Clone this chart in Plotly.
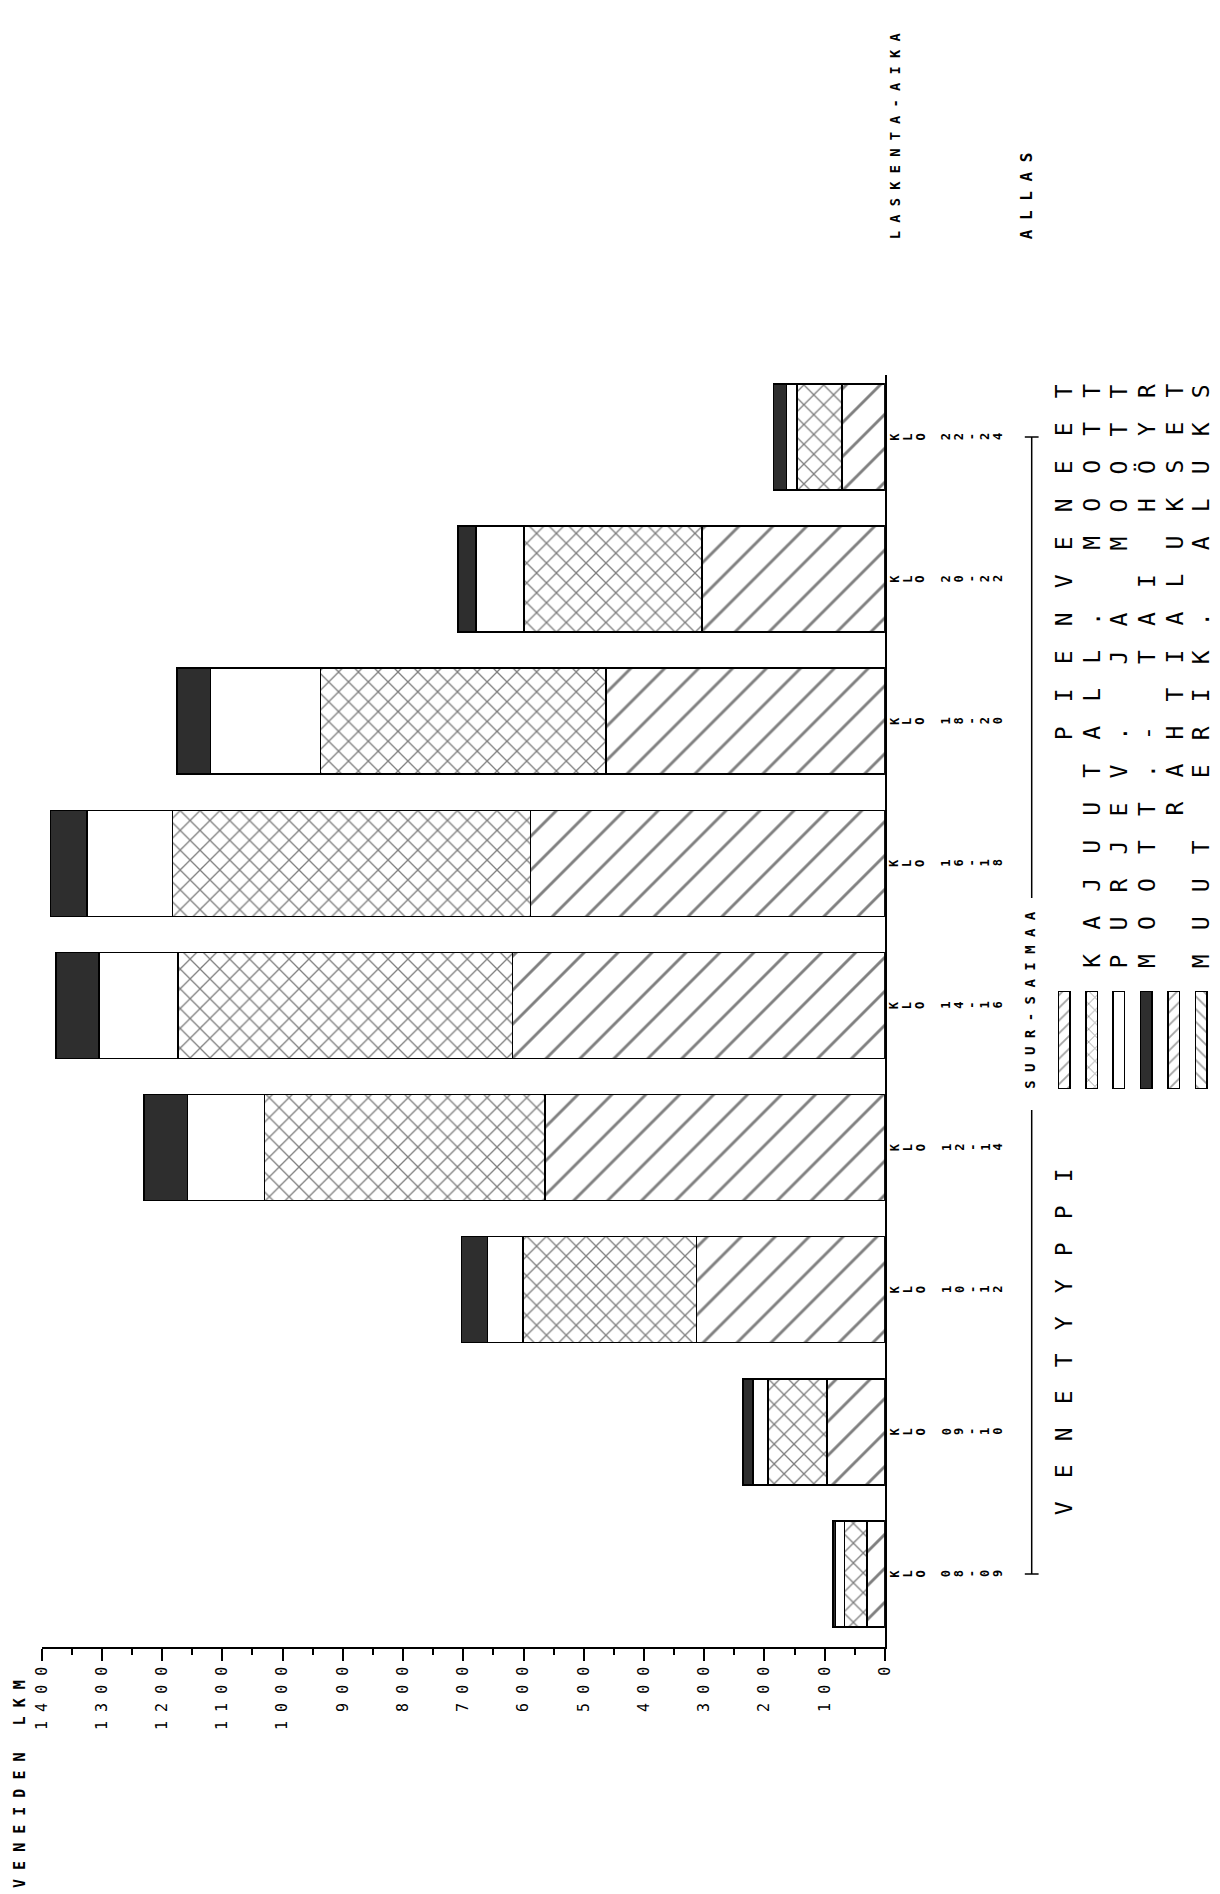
import plotly.graph_objects as go

# Veneiden lukumaara laskenta-ajoittain, Suur-Saimaa
laskenta_aika = ['KLO 08-09', 'KLO 09-10', 'KLO 10-12', 'KLO 12-14', 'KLO 14-16',
                 'KLO 16-18', 'KLO 18-20', 'KLO 20-22', 'KLO 22-24']
pienveneet = [30, 96, 313, 564, 618, 588, 463, 304, 71]
kajuutall_moott = [37, 98, 288, 466, 556, 595, 474, 295, 75]
purjev_ja_moott = [15, 25, 59, 128, 131, 142, 183, 80, 17]
moott_tai_hoyr = [4, 17, 43, 72, 71, 60, 55, 30, 22]
rahtialukset = [0, 0, 0, 0, 0, 0, 0, 0, 0]
muut_erik_aluks = [0, 0, 0, 0, 0, 0, 0, 0, 0]

venetyypit = ['PIENVENEET', 'KAJUUTALL. MOOTT', 'PURJEV. JA MOOTT',
              'MOOTT.- TAI HÖYR', 'RAHTIALUKSET', 'MUUT ERIK. ALUKS']
tick_values = [0, 100, 200, 300, 400, 500, 600, 700, 800, 900, 1000, 1100, 1200, 1300, 1400]
legend_key = [1, 1, 1, 1, 1, 1]

# page has an 8px body margin, so the figure is drawn a bit smaller and all
# positions below are given in page pixels
OFF = 8
W, H = 1220 - OFF, 1894 - OFF
MONO = 'DejaVu Sans Mono'
NB = '\u00a0'


def spaced(s, n=1):
    # plotter-style wide letter spacing
    return (NB * n).join(s.replace(' ', NB))


def pxx(p):
    return (p - OFF) / W


def pxy(p):
    return 1 - (p - OFF) / H


def turned_chars(fig, text, x, y0, step, size, weight='normal', yref='paper'):
    # one annotation per character, each turned 90 deg like the rotated plotter text
    for k, ch in enumerate(text):
        if ch == ' ':
            continue
        if yref == 'paper':
            xx, yy = pxx(x), pxy(y0 - k * step)
        else:
            xx, yy = pxx(x + k * step), y0
        fig.add_annotation(x=xx, y=yy, xref='paper', yref=yref, text=ch, textangle=-90,
                           showarrow=False, xanchor='center', yanchor='middle',
                           font=dict(family=MONO, size=size, weight=weight))


series = [pienveneet, kajuutall_moott, purjev_ja_moott, moott_tai_hoyr, rahtialukset, muut_erik_aluks]
fills = ['white', 'white', 'white', '#2e2e2e', 'white', 'white']
shapes_p = ['/', 'x', '', '', '/', '\\']
sizes_p = [24, 14, 10, 10, 14, 8]
solid_p = [0.12, 0.18, 0.1, 0.1, 0.15, 0.25]

fig = go.Figure()
for name, vals, col, shp, sz, so in zip(venetyypit, series, fills, shapes_p, sizes_p, solid_p):
    fig.add_trace(go.Bar(
        y=laskenta_aika, x=vals, name=name, orientation='h',
        marker=dict(color=col, line=dict(color='black', width=1.5),
                    pattern=dict(shape=shp, size=sz, solidity=so, fgcolor='#000000', bgcolor=col)),
        showlegend=False))

# legend key boxes
fig.add_trace(go.Bar(
    x=[0, 1, 2, 3, 4, 5], y=legend_key, width=0.42, xaxis='x2', yaxis='y2',
    marker=dict(color=fills, line=dict(color='black', width=1.5),
                pattern=dict(shape=shapes_p, size=9, solidity=0.2, fgcolor='#000000')),
    showlegend=False))

fig.update_layout(
    width=W, height=H, barmode='stack', bargap=0.254,
    margin=dict(l=0, r=0, t=0, b=0),
    paper_bgcolor='white', plot_bgcolor='white',
    font=dict(family=MONO, color='black'),
    xaxis=dict(domain=[pxx(33), pxx(889)], range=[1400, 0],
               tickmode='array', tickvals=tick_values,
               ticktext=[spaced(str(v)) for v in tick_values],
               tickangle=-90, tickfont=dict(family=MONO, size=15),
               ticks='outside', ticklen=12, tickwidth=1.5, tickcolor='black',
               minor=dict(dtick=50, ticks='outside', ticklen=6, tickwidth=1.5, tickcolor='black'),
               showline=True, linewidth=1.5, linecolor='black',
               showgrid=False, zeroline=False),
    yaxis=dict(domain=[pxy(1647), pxy(375)], type='category',
               categoryorder='array', categoryarray=laskenta_aika,
               range=[-0.514, 8.436], side='right', anchor='x',
               showline=True, linewidth=1.5, linecolor='black',
               showticklabels=False, ticks='', showgrid=False, zeroline=False),
    xaxis2=dict(domain=[pxx(1057), pxx(1220)], range=[-0.5, 5.36], visible=False),
    yaxis2=dict(domain=[pxy(1089), pxy(991)], range=[0, 1], visible=False, anchor='x2'),
)

# category labels: every character turned on its own, as in the rotated original
for cat in laskenta_aika:
    turned_chars(fig, cat, 899, cat, 13.1, 12, weight='bold', yref='y')

# legend labels, read from bottom to top, tops aligned
legend_x = [1071, 1099, 1127, 1155, 1183, 1210]
pitch = 38
for lx, name in zip(legend_x, venetyypit):
    turned_chars(fig, name, lx, 391 + (len(name) - 1) * pitch, pitch, 23)

turned_chars(fig, 'VENETYYPPI', 1071, 1508, 37, 23)

fig.add_annotation(x=pxx(900), y=pxy(241), xref='paper', yref='paper', text=spaced('LASKENTA-AIKA'),
                   textangle=-90, showarrow=False, xanchor='center', yanchor='bottom',
                   font=dict(family=MONO, size=13.7, weight='bold'))
fig.add_annotation(x=pxx(1033), y=pxy(241), xref='paper', yref='paper', text=spaced('ALLAS'),
                   textangle=-90, showarrow=False, xanchor='center', yanchor='bottom',
                   font=dict(family=MONO, size=16, weight='bold'))
fig.add_annotation(x=pxx(1036), y=pxy(1000), xref='paper', yref='paper', text=spaced('SUUR-SAIMAA'),
                   textangle=-90, showarrow=False, xanchor='center', yanchor='middle',
                   font=dict(family=MONO, size=14, weight='bold'))
fig.add_annotation(x=pxx(11), y=pxy(1784), xref='paper', yref='paper', text=spaced('VENEIDEN LKM'),
                   textangle=-90, showarrow=False, xanchor='center', yanchor='middle',
                   font=dict(family=MONO, size=15, weight='bold'))

# group bracket for SUUR-SAIMAA
line = dict(color='black', width=1.5)
bx = 1038
fig.add_shape(type='line', xref='paper', yref='paper', x0=pxx(bx), x1=pxx(bx), y0=pxy(437), y1=pxy(898), line=line)
fig.add_shape(type='line', xref='paper', yref='paper', x0=pxx(bx - 7), x1=pxx(bx + 7), y0=pxy(437), y1=pxy(437), line=line)
fig.add_shape(type='line', xref='paper', yref='paper', x0=pxx(bx), x1=pxx(bx), y0=pxy(1110), y1=pxy(1574), line=line)
fig.add_shape(type='line', xref='paper', yref='paper', x0=pxx(bx - 7), x1=pxx(bx + 7), y0=pxy(1574), y1=pxy(1574), line=line)

fig.write_html('out.html')
